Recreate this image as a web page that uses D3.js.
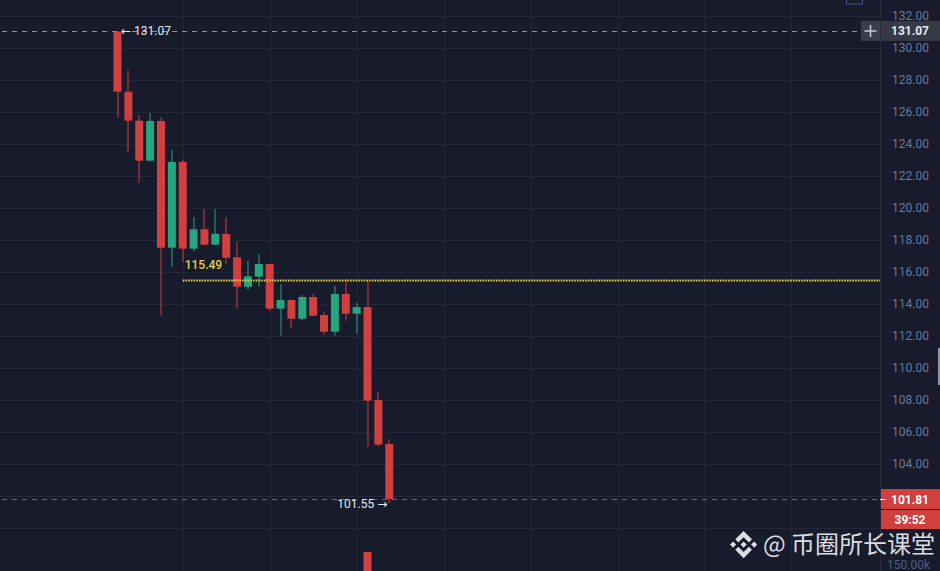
<!DOCTYPE html>
<html>
<head>
<meta charset="utf-8">
<script src="https://cdn.jsdelivr.net/npm/d3@7"></script>
<style>
  html, body { margin: 0; padding: 0; background: #171b2b; overflow: hidden; }
  svg { display: block; }
  .svgText { font-family: Roboto, 'Noto Sans', 'DejaVu Sans', sans-serif; font-size: 12px; }
</style>
</head>
<body>
<div id="chart"></div>
<script>

// hourly candles
const opens  = [131.02, 127.27, 125.46, 122.96, 125.44, 117.52, 122.88, 117.46, 118.67, 117.71, 118.38, 116.92, 115.08,
                115.71, 116.50, 113.71, 114.25, 113.08, 114.44, 113.31, 112.27, 114.63, 113.39, 113.81, 108.00, 105.25];
const highs  = [131.07, 128.63, 125.81, 125.94, 125.67, 123.63, 123.04, 119.42, 119.94, 119.94, 119.42, 117.89, 116.69,
                117.12, 116.50, 115.25, 114.31, 114.56, 114.63, 113.54, 115.13, 115.56, 114.08, 115.46, 108.50, 105.54];
const lows   = [125.64, 123.46, 121.58, 122.89, 113.29, 116.33, 116.61, 117.27, 117.69, 117.69, 116.50, 113.73, 114.89,
                115.08, 113.58, 112.02, 112.46, 113.00, 113.27, 112.06, 112.02, 112.94, 112.13, 105.08, 105.08, 101.55];
const closes = [127.27, 125.46, 122.96, 125.44, 117.52, 122.88, 117.46, 118.67, 117.71, 118.38, 116.89, 115.08, 115.73,
                116.50, 113.71, 114.25, 113.08, 114.44, 113.27, 112.27, 114.63, 113.39, 113.81, 107.96, 105.21, 101.81];
// only the big one reaches into view, the rest sit below the window
const volumes = [92000, 60000, 55000, 40000, 108000, 70000, 64000, 30000, 26000, 22000, 35000, 58000, 28000,
                 24000, 62000, 41000, 33000, 29000, 25000, 27000, 46000, 38000, 21000, 203000, 112000, 88000];

const priceTicks = [100, 102, 104, 106, 108, 110, 112, 114, 116, 118, 120, 122, 124, 126, 128, 130, 132];
const volumeTicks = [150000];
const timeGridBars = [6, 14, 22, 30, 38, 46, 54, 62];

const highMark = 131.07;
const lowMark = 101.55;
const levelLine = 115.49;
const lastPrice = 101.81;
const countdown = '39:52';
const watermark = '@ 币圈所长课堂';

CandleChart = {

  svgSize: {width: 940, height: 571},
  plotWidth: 880,
  step: 10.87,
  firstX: 117.5,
  colors: {
    bg: '#171b2b', grid: '#222636', axis: '#6a78a6', up: '#26a581', down: '#d23f3f',
    dash: '#8c919e', yellow: '#e6d33c', label: '#e8eaef', tag: '#363a46'
  },

  createSVG: function() {
    this.svg = d3.select('#chart').append('svg')
      .attr('width', this.svgSize.width)
      .attr('height', this.svgSize.height)
      .style('background', this.colors.bg)
  },

  createScales: function() {
    const lastBar = (this.plotWidth - this.firstX) / this.step;
    this.xScale = d3.scaleLinear().domain([-this.firstX / this.step, lastBar]).range([0, this.plotWidth]);
    this.yScale = d3.scaleLinear().domain([97.3125, 133]).range([this.svgSize.height, 0]);
    this.volScale = d3.scaleLinear().domain([0, 150000]).range([602, 565]);
  },

  createGrid: function() {
    const grid = this.svg.append('g');
    grid.selectAll('.hgrid').data(priceTicks).enter().append('line')
      .attr('x1', 0).attr('x2', this.plotWidth)
      .attr('y1', (d)=> Math.round(this.yScale(d)) + 0.5)
      .attr('y2', (d)=> Math.round(this.yScale(d)) + 0.5)
      .attr('stroke', this.colors.grid)
    grid.selectAll('.vgrid').data(timeGridBars).enter().append('line')
      .attr('x1', (d)=> Math.round(this.xScale(d)) + 0.5)
      .attr('x2', (d)=> Math.round(this.xScale(d)) + 0.5)
      .attr('y1', 0).attr('y2', this.svgSize.height)
      .attr('stroke', this.colors.grid)
    this.svg.append('line')
      .attr('x1', this.plotWidth + 0.5).attr('x2', this.plotWidth + 0.5)
      .attr('y1', 0).attr('y2', this.svgSize.height)
      .attr('stroke', '#272b3a')
  },

  createAxis: function() {
    // labels sitting under the last-price tags are hidden, like the terminal does
    const tagCenters = [this.yScale(lastPrice), this.yScale(lastPrice) + 20];
    const shown = priceTicks.filter((t)=> tagCenters.every((c)=> Math.abs(this.yScale(t) - c) > 12));

    this.yAxis = d3.axisRight(this.yScale)
      .tickValues(shown)
      .tickSize(0)
      .tickFormat(d3.format('.2f'));
    this.yAxisGroup = this.svg.append('g')
      .attr('transform', `translate(${this.plotWidth}, 0)`)
      .call(this.yAxis)
    this.yAxisGroup.select('.domain').remove();
    this.yAxisGroup.selectAll('text')
      .attr('class', 'svgText')
      .attr('x', 49)
      .attr('fill', this.colors.axis)
      .style('text-anchor', 'end')

    this.volAxis = d3.axisRight(this.volScale)
      .tickValues(volumeTicks)
      .tickSize(0)
      .tickFormat((d)=> `${(d / 1000).toFixed(2)}k`);
    const volGroup = this.svg.append('g')
      .attr('transform', `translate(${this.plotWidth}, 0)`)
      .call(this.volAxis)
    volGroup.select('.domain').remove();
    volGroup.selectAll('text')
      .attr('class', 'svgText')
      .attr('x', 50)
      .attr('fill', '#4f5b86')
      .style('text-anchor', 'end')
  },

  createCandles: function() {
    const bodyWidth = 8;
    const bars = this.svg.append('g').selectAll('g')
      .data(opens.map((o, i)=> ({i: i, open: o, high: highs[i], low: lows[i], close: closes[i], vol: volumes[i]})))
      .enter().append('g')
    const color = (d)=> d.close >= d.open ? this.colors.up : this.colors.down;

    bars.append('rect')
      .attr('x', (d)=> this.xScale(d.i) - bodyWidth / 2)
      .attr('width', bodyWidth)
      .attr('y', (d)=> this.volScale(d.vol))
      .attr('height', (d)=> this.volScale(0) - this.volScale(d.vol))
      .attr('fill', color)
    bars.append('rect')
      .attr('x', (d)=> Math.round(this.xScale(d.i)) - 0.5)
      .attr('width', 1)
      .attr('y', (d)=> this.yScale(d.high))
      .attr('height', (d)=> this.yScale(d.low) - this.yScale(d.high))
      .attr('fill', color)
    bars.append('rect')
      .attr('x', (d)=> this.xScale(d.i) - bodyWidth / 2)
      .attr('width', bodyWidth)
      .attr('y', (d)=> this.yScale(Math.max(d.open, d.close)))
      .attr('height', (d)=> Math.max(1, Math.abs(this.yScale(d.open) - this.yScale(d.close))))
      .attr('fill', color)
  },

  createLevels: function() {
    const yHigh = Math.round(this.yScale(highMark)) + 0.5;
    const yLast = Math.round(this.yScale(lastPrice)) + 0.5;
    const yLevel = Math.round(this.yScale(levelLine)) + 0.5;

    this.svg.append('line')
      .attr('x1', 2).attr('x2', 860).attr('y1', yHigh).attr('y2', yHigh)
      .attr('stroke', this.colors.dash).attr('stroke-dasharray', '5,5')
    this.svg.append('line')
      .attr('x1', 2).attr('x2', this.plotWidth).attr('y1', yLast).attr('y2', yLast)
      .attr('stroke', this.colors.down).attr('stroke-dasharray', '5,5')
    this.svg.append('line')
      .attr('x1', this.xScale(6)).attr('x2', this.plotWidth).attr('y1', yLevel).attr('y2', yLevel)
      .attr('stroke', this.colors.yellow).attr('stroke-width', 2).attr('stroke-dasharray', '1.6,1.1')
  },

  createLabels: function() {
    this.svg.append('text')
      .attr('class', 'svgText')
      .attr('x', this.xScale(0) + 3.5)
      .attr('y', this.yScale(highMark) + 4)
      .attr('fill', this.colors.label)
      .text(`← ${highMark.toFixed(2)}`)
    this.svg.append('text')
      .attr('class', 'svgText')
      .attr('x', this.xScale(25) - 2)
      .attr('y', this.yScale(lowMark) + 5)
      .attr('fill', this.colors.label)
      .style('text-anchor', 'end')
      .text(`${lowMark.toFixed(2)} →`)
    this.svg.append('text')
      .attr('class', 'svgText')
      .attr('x', this.xScale(6) + 2)
      .attr('y', this.yScale(levelLine) - 11)
      .attr('fill', this.colors.yellow)
      .style('font-weight', 500)
      .text(levelLine.toFixed(2))
  },

  createPriceTags: function() {
    const yHigh = this.yScale(highMark);
    const yLast = this.yScale(lastPrice);

    // crosshair button and high tag
    this.svg.append('rect')
      .attr('x', 861).attr('y', yHigh - 10).attr('width', 19).attr('height', 20)
      .attr('fill', '#3a3e4a')
    this.svg.append('path')
      .attr('d', `M${870.5},${yHigh - 6}V${yHigh + 6}M${864.5},${yHigh}H${876.5}`)
      .attr('stroke', '#c9ccd3').attr('stroke-width', 1.5)
    this.svg.append('rect')
      .attr('x', 881).attr('y', yHigh - 10).attr('width', 59).attr('height', 20)
      .attr('fill', this.colors.tag)
    this.svg.append('text')
      .attr('class', 'svgText')
      .attr('x', 929).attr('y', yHigh + 4.5)
      .attr('fill', '#e8eaef').style('font-weight', 700).style('text-anchor', 'end')
      .text(highMark.toFixed(2))

    // last price and candle countdown
    this.svg.append('rect')
      .attr('x', 881).attr('y', yLast - 10).attr('width', 59).attr('height', 20)
      .attr('fill', this.colors.down)
    this.svg.append('rect')
      .attr('x', 881).attr('y', yLast + 11).attr('width', 59).attr('height', 19)
      .attr('fill', this.colors.down)
    this.svg.append('line')
      .attr('x1', 880).attr('x2', 886).attr('y1', Math.round(yLast) + 0.5).attr('y2', Math.round(yLast) + 0.5)
      .attr('stroke', '#ffffff')
    this.svg.append('text')
      .attr('class', 'svgText')
      .attr('x', 929).attr('y', yLast + 4.5)
      .attr('fill', '#ffffff').style('font-weight', 700).style('text-anchor', 'end')
      .text(lastPrice.toFixed(2))
    this.svg.append('text')
      .attr('class', 'svgText')
      .attr('x', 910).attr('y', yLast + 25)
      .attr('fill', '#ffffff').style('font-weight', 700).style('text-anchor', 'middle')
      .text(countdown)
  },

  createExtras: function() {
    this.svg.append('rect')
      .attr('x', 846.5).attr('y', -4).attr('width', 16).attr('height', 8)
      .attr('fill', 'none').attr('stroke', '#4b5687')
    this.svg.append('rect')
      .attr('x', 938).attr('y', 348).attr('width', 2).attr('height', 37)
      .attr('fill', '#8f949e')

    // binance mark + watermark text
    const logo = this.svg.append('g')
      .attr('transform', 'translate(730, 531) scale(0.215)')
      .attr('fill', '#dcdde2')
    const shapes = [
      '38.73,53.2 63.3,28.64 87.89,53.22 102.18,38.93 63.3,0 24.43,38.87',
      '0.01,63.31 14.3,49.01 28.6,63.31 14.3,77.6',
      '38.73,73.41 63.3,97.98 87.89,73.39 102.18,87.68 63.3,126.57 24.43,87.74',
      '98.01,63.31 112.3,49.01 126.6,63.31 112.3,77.61',
      '77.83,63.3 63.3,48.76 48.78,63.27 63.3,77.8'
    ];
    logo.selectAll('polygon').data(shapes).enter().append('polygon')
      .attr('points', (d)=> d)
    this.svg.append('text')
      .attr('x', 763).attr('y', 553)
      .attr('fill', '#dcdde2')
      .style('font-family', "'Noto Sans CJK SC', 'Noto Sans', sans-serif")
      .style('font-size', '24px')
      .text(watermark)
  },

  loadChart: function() {
    this.createSVG();
    this.createScales();
    this.createGrid();
    this.createAxis();
    this.createCandles();
    this.createLevels();
    this.createLabels();
    this.createPriceTags();
    this.createExtras();
  },

}

CandleChart.loadChart();

</script>
</body>
</html>
